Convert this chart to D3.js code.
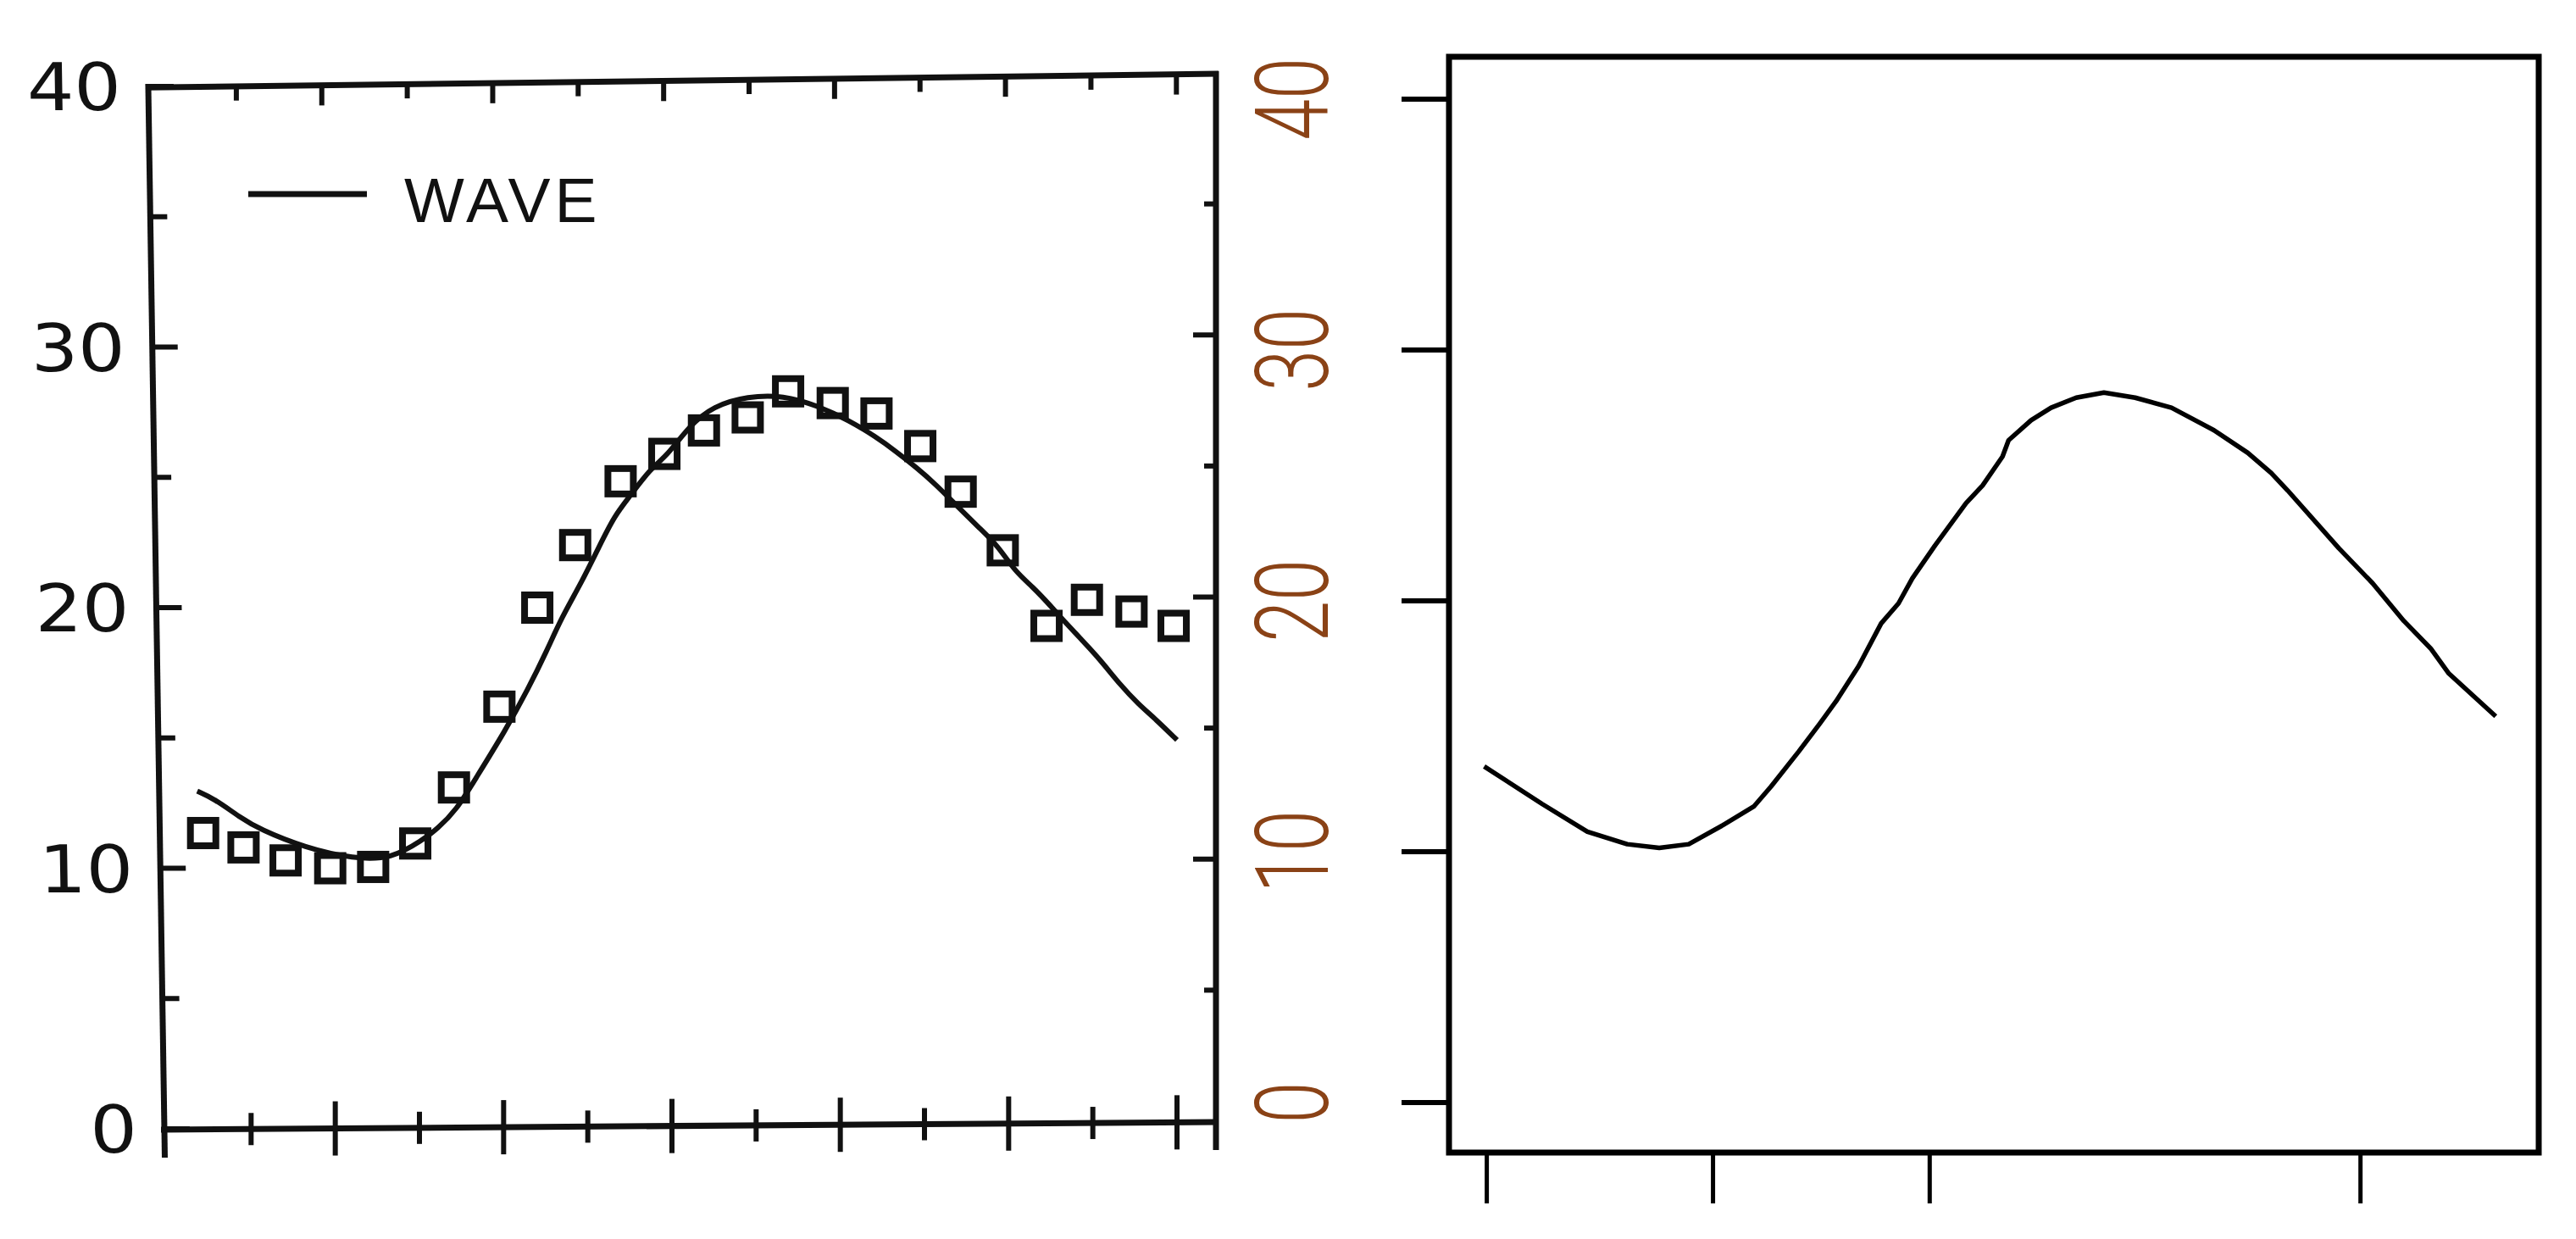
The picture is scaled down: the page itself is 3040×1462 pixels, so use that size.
<!DOCTYPE html>
<html><head><meta charset="utf-8">
<script src="https://cdn.jsdelivr.net/npm/d3@7"></script>
<style>html,body{margin:0;padding:0;background:#fff;}svg{display:block;}</style>
</head><body>
<svg id="c" width="3040" height="1462"></svg>
<script>
// ---------- data ----------
const yTickValues = [0, 10, 20, 30, 40];
const yMinorValues = [5, 15, 25, 35];
const yTickLabels = ["0", "10", "20", "30", "40"];
const leftXTicks = [1, 2, 3, 4, 5, 6, 7, 8, 9, 10, 11, 12];
const legendLabel = "WAVE";

// observed values (squares), left panel
const pointX = [0.43, 0.91, 1.41, 1.94, 2.45, 2.95, 3.41, 3.95, 4.40, 4.85, 5.39, 5.91,
                6.38, 6.90, 7.38, 7.91, 8.43, 8.95, 9.43, 9.93, 10.45, 10.93, 11.46, 11.96];
const pointY = [11.35, 10.8, 10.3, 10.0, 10.05, 10.95, 13.1, 16.2, 20.0, 22.4, 24.85, 25.9,
                26.8, 27.3, 28.3, 27.85, 27.45, 26.2, 24.45, 22.2, 19.3, 20.3, 19.85, 19.3];

// WAVE model curve, left panel
const waveX = [0.36, 0.56, 0.87, 1.10, 1.64, 2.22, 2.67, 3.03, 3.21, 3.44, 3.66, 4.02, 4.29,
               4.51, 4.69, 4.92, 5.14, 5.32, 5.50, 5.73, 5.95, 6.20, 6.49, 6.90, 7.32, 7.74,
               8.11, 8.41, 8.66, 8.91, 9.12, 9.41, 9.66, 9.87, 10.08, 10.29, 10.50, 10.66,
               10.87, 11.08, 11.33, 11.54, 11.75, 12.0];
const waveY = [12.96, 12.67, 11.95, 11.5, 10.79, 10.36, 10.36, 11.07, 11.5, 12.24, 13.4, 15.28, 16.87,
               18.32, 19.63, 20.93, 22.38, 23.54, 24.27, 25.28, 25.86, 26.95, 27.74, 28.11, 28.15, 27.74,
               27.17, 26.58, 26.0, 25.36, 24.77, 23.83, 23.03, 22.38, 21.37, 20.79, 20.06, 19.48,
               18.76, 18.03, 17.02, 16.3, 15.71, 14.92];

const rightX = [0.32, 0.99, 1.51, 1.97, 2.34, 2.68, 3.07, 3.43, 3.63, 3.95, 4.19, 4.38, 4.64,
                4.90, 5.10, 5.26, 5.52, 5.88, 6.07, 6.30, 6.37, 6.63, 6.86, 7.15, 7.47, 7.83,
                8.25, 8.74, 9.13, 9.40, 9.59, 10.18, 10.57, 10.93, 11.24, 11.45, 11.99];
const rightY = [13.4, 11.9, 10.8, 10.3, 10.15, 10.3, 11.05, 11.8, 12.6, 14.0, 15.1, 16.0, 17.4,
                19.1, 19.9, 20.9, 22.2, 23.9, 24.6, 25.75, 26.4, 27.2, 27.7, 28.1, 28.3, 28.1,
                27.7, 26.8, 25.9, 25.1, 24.4, 22.1, 20.7, 19.2, 18.1, 17.1, 15.4];
const rightXTicks = [0.35, 2.96, 5.46, 10.43];

// ---------- drawing ----------
const svg = d3.select('#c');
svg.append('rect').attr('width', 3040).attr('height', 1462).attr('fill', '#fff');

// Left panel (scanned figure, slightly distorted frame)
const xL = d3.scaleLinear().domain([0, 12]).range([197, 1389]);
const yL = d3.scaleLinear().domain([0, 40]).range([1332, 102]);
const AX = 194, RX = 1435, INK = '#111';
// frame distortion helpers (scan is slightly skewed)
const topY = x => 103 - 16 * (x - AX) / (RX - AX);
const botY = x => 1333 - 9 * (x - AX) / (RX - AX);
const topShift = x => -19 * (1 - (x - AX) / (RX - AX));
const K = 19 / 1231, Y0 = 1334;
const L = svg.append('g');
const Ls = L.append('g').attr('transform', `matrix(1,0,${K},1,${-K * Y0},0)`);

// frame lines
L.append('line').attr('x1', AX - 19 - 3).attr('y1', topY(AX - 19)).attr('x2', RX + 3).attr('y2', topY(RX))
  .attr('stroke', INK).attr('stroke-width', 7);
L.append('line').attr('x1', RX).attr('x2', RX).attr('y1', topY(RX) - 3).attr('y2', 1357)
  .attr('stroke', INK).attr('stroke-width', 7);
L.append('line').attr('x1', AX - 4).attr('y1', botY(AX)).attr('x2', RX + 3).attr('y2', botY(RX))
  .attr('stroke', INK).attr('stroke-width', 7);
Ls.append('line').attr('x1', AX).attr('x2', AX).attr('y1', yL(40) - 3).attr('y2', 1366)
  .attr('stroke', INK).attr('stroke-width', 7);

// left y ticks (inward) and labels
Ls.selectAll('.ylt').data(yTickValues.concat(yMinorValues)).enter().append('line')
  .attr('x1', AX).attr('x2', d => AX + (d % 10 === 0 ? 30 : 20))
  .attr('y1', d => yL(d)).attr('y2', d => yL(d))
  .attr('stroke', INK).attr('stroke-width', 6);
Ls.selectAll('.yll').data(yTickValues).enter().append('text')
  .attr('transform', d => `translate(162,${yL(d)}) scale(1.12,1)`)
  .attr('dy', '0.36em').attr('text-anchor', 'end')
  .attr('font-family', 'DejaVu Sans, sans-serif').attr('font-size', 78)
  .attr('fill', INK)
  .text((d, i) => yTickLabels[i]);

// top ticks (downward)
L.selectAll('.tt').data(leftXTicks).enter().append('line')
  .attr('x1', d => xL(d) + topShift(xL(d))).attr('x2', d => xL(d) + topShift(xL(d)))
  .attr('y1', d => topY(xL(d))).attr('y2', d => topY(xL(d)) + (d % 2 === 0 ? 24 : 17))
  .attr('stroke', INK).attr('stroke-width', 6);

// bottom ticks (crossing)
L.selectAll('.bt').data(leftXTicks).enter().append('line')
  .attr('x1', d => xL(d)).attr('x2', d => xL(d))
  .attr('y1', d => botY(xL(d)) - (d % 2 === 0 ? 32 : 19))
  .attr('y2', d => botY(xL(d)) + (d % 2 === 0 ? 32 : 19))
  .attr('stroke', INK).attr('stroke-width', 6);

// right border ticks (inward)
const rShift = v => -(9 + 7 * v / 40);
L.selectAll('.rt').data([5, 10, 15, 20, 25, 30, 35]).enter().append('line')
  .attr('x1', RX).attr('x2', d => RX - (d % 10 === 0 ? 27 : 14))
  .attr('y1', d => yL(d) + rShift(d)).attr('y2', d => yL(d) + rShift(d))
  .attr('stroke', INK).attr('stroke-width', 6);

// WAVE curve
const wave = waveX.map((x, i) => [x, waveY[i]]);
L.append('path').datum(wave)
  .attr('d', d3.line().x(d => xL(d[0])).y(d => yL(d[1])).curve(d3.curveBasis))
  .attr('fill', 'none').attr('stroke', INK).attr('stroke-width', 6);

// squares
const pts = pointX.map((x, i) => [x, pointY[i]]);
L.selectAll('.sq').data(pts).enter().append('rect')
  .attr('x', d => xL(d[0]) - 15).attr('y', d => yL(d[1]) - 15)
  .attr('width', 30).attr('height', 30)
  .attr('fill', 'none').attr('stroke', INK).attr('stroke-width', 8);

// legend
L.append('line').attr('x1', 293).attr('x2', 433).attr('y1', 229).attr('y2', 229)
  .attr('stroke', INK).attr('stroke-width', 7);
L.append('text').attr('x', 477).attr('y', 262)
  .attr('font-family', 'Liberation Sans, Arial, sans-serif').attr('font-size', 75)
  .attr('letter-spacing', 5).attr('fill', INK).text(legendLabel);

// Right panel
const xR = d3.scaleLinear().domain([-0.086, 12.496]).range([1710, 2997]);
const yR = d3.scaleLinear().domain([0, 40]).range([1301, 117]);
const R = svg.append('g');
R.append('rect').attr('x', 1710).attr('y', 67).attr('width', 1286).attr('height', 1293)
  .attr('fill', 'none').attr('stroke', '#000').attr('stroke-width', 7);

R.selectAll('.ryt').data(yTickValues).enter().append('line')
  .attr('x1', 1654).attr('x2', 1710).attr('y1', d => yR(d)).attr('y2', d => yR(d))
  .attr('stroke', '#000').attr('stroke-width', 6);
R.selectAll('.ryl').data(yTickValues).enter().append('text')
  .attr('transform', d => `translate(1567,${yR(d)}) rotate(-90) scale(1,1.38)`)
  .attr('text-anchor', 'middle')
  .attr('font-family', 'Roboto, Liberation Sans, sans-serif').attr('font-weight', 300)
  .attr('font-size', 88).attr('fill', '#8a4216')
  .text((d, i) => yTickLabels[i]);

R.selectAll('.rxt').data(rightXTicks).enter().append('line')
  .attr('x1', d => xR(d)).attr('x2', d => xR(d)).attr('y1', 1360).attr('y2', 1420)
  .attr('stroke', '#000').attr('stroke-width', 5);

const rc = rightX.map((x, i) => [x, rightY[i]]);
R.append('path').datum(rc)
  .attr('d', d3.line().x(d => xR(d[0])).y(d => yR(d[1])))
  .attr('fill', 'none').attr('stroke', '#000').attr('stroke-width', 5.5)
  .attr('stroke-linejoin', 'round');
</script>
</body></html>
